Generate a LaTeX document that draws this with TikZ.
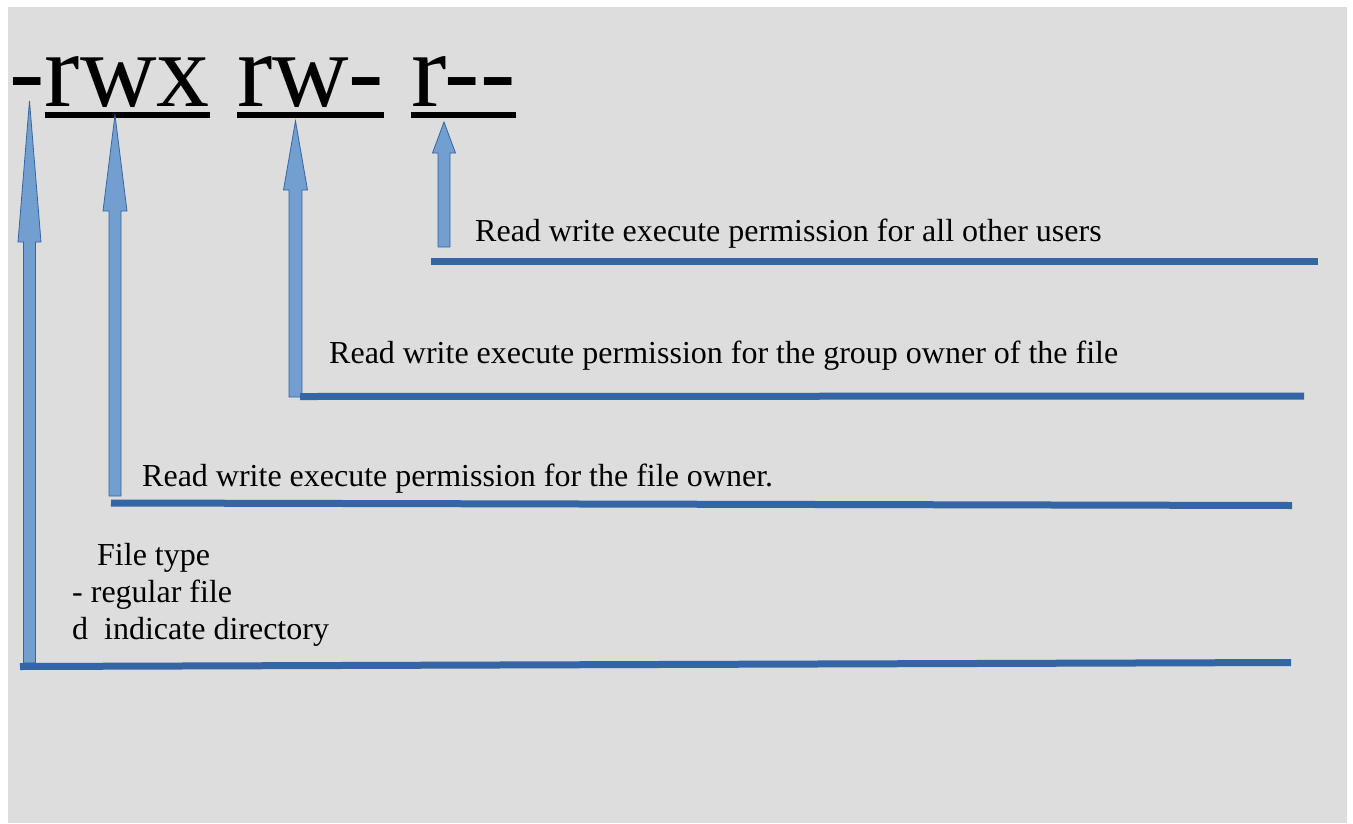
\documentclass[tikz,border=0pt]{standalone}
\usepackage{fontspec}
\setmainfont{Liberation Serif}
\usepackage{tikz}
\usetikzlibrary{positioning}
\definecolor{bggray}{HTML}{DDDDDD}
\definecolor{darkblue}{HTML}{3465A4}
\definecolor{lightblue}{HTML}{729FCF}
\newcommand{\blkarrow}[6]{\draw[blkarr] (#1,#2) -- (#1+#5,#3) -- (#1+#6,#3) -- (#1+#6,#4) -- (#1-#6,#4) -- (#1-#6,#3) -- (#1-#5,#3) -- cycle;}

\begin{document}
\begin{tikzpicture}[x=1pt,y=-1pt,
	bigtxt/.style={inner sep=0pt,anchor=base west,font=\fontsize{106}{120}\selectfont},
	lbltxt/.style={inner sep=0pt,anchor=base west,font=\fontsize{32}{36.8}\selectfont},
	uline/.style={line width=6pt},
	barline/.style={darkblue,line width=7pt},
	blkarr/.style={fill=lightblue,draw=darkblue,line width=0.8pt}]
	\useasboundingbox (0,0) rectangle (1353,823);
	\fill[bggray] (8,7) rectangle (1347,823);
	\node[bigtxt] (ftype) at (9,106) {-};
	\node[bigtxt] (uperm) at (ftype.base east) {rwx};
	\node[bigtxt] (gperm) at ([xshift=27pt]uperm.base east) {rw-};
	\node[bigtxt] (operm) at ([xshift=27pt]gperm.base east) {r-\kern0pt-};
	\draw[uline] ([yshift=-9pt]uperm.base west) -- ([yshift=-9pt]uperm.base east);
	\draw[uline] ([yshift=-9pt]gperm.base west) -- ([yshift=-9pt]gperm.base east);
	\draw[uline] ([yshift=-9pt]operm.base west) -- ([yshift=-9pt]operm.base east);
	\blkarrow{29.5}{101}{242}{663}{11.5}{6}
	\blkarrow{115}{115}{211}{496}{12}{6}
	\blkarrow{295.5}{121}{190}{397}{12}{6.5}
	\blkarrow{444}{122}{153}{247}{11.5}{6}
	\draw[barline] (431,261) -- (1318,261);
	\draw[barline] (300,396.5) -- (1304,396);
	\draw[barline] (111,503) -- (1292,505.5);
	\draw[barline] (20,666.5) -- (1291,662.5);
	\node[lbltxt] (olbl) at (475,241) {Read write execute permission for all other users};
	\node[lbltxt] (glbl) at (329,363) {Read write execute permission for the group owner of the file};
	\node[lbltxt] (ulbl) at (142,486) {Read write execute permission for the file owner.};
	\node[lbltxt] (ftlbl) at (97,565) {File type};
	\node[lbltxt] (reglbl) at (72,602) {- regular file};
	\node[lbltxt] (dirlbl) at (72,639) {d\ \ indicate directory};
\end{tikzpicture}
\end{document}
